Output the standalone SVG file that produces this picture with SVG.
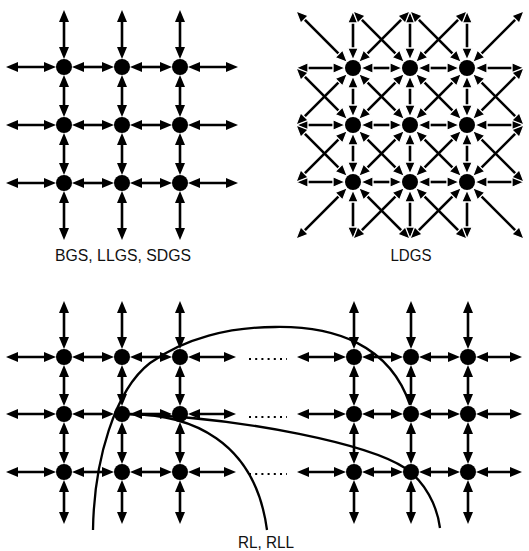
<svg xmlns="http://www.w3.org/2000/svg" width="529" height="551" viewBox="0 0 529 551">
<style>
.ln{stroke:#000;stroke-width:2.6;fill:none;marker-start:url(#a);marker-end:url(#a)}
.ld{stroke:#000;stroke-width:2.6;fill:none;marker-start:url(#b);marker-end:url(#b)}
.cv{stroke:#000;stroke-width:2.3;fill:none}
.dt{stroke:#000;stroke-width:2;stroke-dasharray:2 4.2;fill:none}
.nd{fill:#000}
.lb{font-family:"Liberation Sans",Arial,sans-serif;font-size:16px;fill:#111;text-anchor:middle}
</style>
<defs>
<marker id="a" markerUnits="userSpaceOnUse" markerWidth="14" markerHeight="12" viewBox="0 0 14 12" refX="7" refY="6" orient="auto-start-reverse" overflow="visible"><path d="M1,1 L13,6 L1,11 z" fill="#000"/></marker>
<marker id="b" markerUnits="userSpaceOnUse" markerWidth="15" markerHeight="13" viewBox="0 0 15 13" refX="7.5" refY="6.5" orient="auto-start-reverse" overflow="visible"><path d="M1.5,1.2 L13.5,6.5 L1.5,11.8 z" fill="#000" stroke="#fff" stroke-width="1.3" stroke-linejoin="miter"/></marker>
</defs>
<rect width="529" height="551" fill="#fff"/>
<g id="connectors">
<g id="bgs-links">
<line class="ln" x1="12" y1="67" x2="50" y2="67"/><line class="ln" x1="78" y1="67" x2="108" y2="67"/><line class="ln" x1="136" y1="67" x2="166" y2="67"/><line class="ln" x1="194" y1="67" x2="232" y2="67"/>
<line class="ln" x1="12" y1="125" x2="50" y2="125"/><line class="ln" x1="78" y1="125" x2="108" y2="125"/><line class="ln" x1="136" y1="125" x2="166" y2="125"/><line class="ln" x1="194" y1="125" x2="232" y2="125"/>
<line class="ln" x1="12" y1="183" x2="50" y2="183"/><line class="ln" x1="78" y1="183" x2="108" y2="183"/><line class="ln" x1="136" y1="183" x2="166" y2="183"/><line class="ln" x1="194" y1="183" x2="232" y2="183"/>
<line class="ln" x1="64" y1="16" x2="64" y2="53"/><line class="ln" x1="64" y1="81" x2="64" y2="111"/><line class="ln" x1="64" y1="139" x2="64" y2="169"/><line class="ln" x1="64" y1="197" x2="64" y2="234"/>
<line class="ln" x1="122" y1="16" x2="122" y2="53"/><line class="ln" x1="122" y1="81" x2="122" y2="111"/><line class="ln" x1="122" y1="139" x2="122" y2="169"/><line class="ln" x1="122" y1="197" x2="122" y2="234"/>
<line class="ln" x1="180" y1="16" x2="180" y2="53"/><line class="ln" x1="180" y1="81" x2="180" y2="111"/><line class="ln" x1="180" y1="139" x2="180" y2="169"/><line class="ln" x1="180" y1="197" x2="180" y2="234"/>
</g>
<g id="ldgs-links">
<line class="ld" x1="302" y1="68" x2="339" y2="68"/><line class="ld" x1="367" y1="68" x2="396" y2="68"/><line class="ld" x1="424" y1="68" x2="453" y2="68"/><line class="ld" x1="481" y1="68" x2="518" y2="68"/>
<line class="ld" x1="302" y1="125" x2="339" y2="125"/><line class="ld" x1="367" y1="125" x2="396" y2="125"/><line class="ld" x1="424" y1="125" x2="453" y2="125"/><line class="ld" x1="481" y1="125" x2="518" y2="125"/>
<line class="ld" x1="302" y1="182" x2="339" y2="182"/><line class="ld" x1="367" y1="182" x2="396" y2="182"/><line class="ld" x1="424" y1="182" x2="453" y2="182"/><line class="ld" x1="481" y1="182" x2="518" y2="182"/>
<line class="ld" x1="353" y1="17" x2="353" y2="54"/><line class="ld" x1="353" y1="82" x2="353" y2="111"/><line class="ld" x1="353" y1="139" x2="353" y2="168"/><line class="ld" x1="353" y1="196" x2="353" y2="233"/>
<line class="ld" x1="410" y1="17" x2="410" y2="54"/><line class="ld" x1="410" y1="82" x2="410" y2="111"/><line class="ld" x1="410" y1="139" x2="410" y2="168"/><line class="ld" x1="410" y1="196" x2="410" y2="233"/>
<line class="ld" x1="467" y1="17" x2="467" y2="54"/><line class="ld" x1="467" y1="82" x2="467" y2="111"/><line class="ld" x1="467" y1="139" x2="467" y2="168"/><line class="ld" x1="467" y1="196" x2="467" y2="233"/>
<line class="ld" x1="300.2" y1="15.2" x2="343.1" y2="58.1"/>
<line class="ld" x1="357.2" y1="15.2" x2="400.1" y2="58.1"/>
<line class="ld" x1="414.2" y1="15.2" x2="457.1" y2="58.1"/>
<line class="ld" x1="300.2" y1="72.2" x2="343.1" y2="115.1"/>
<line class="ld" x1="362.9" y1="77.9" x2="400.1" y2="115.1"/>
<line class="ld" x1="419.9" y1="77.9" x2="457.1" y2="115.1"/>
<line class="ld" x1="476.9" y1="77.9" x2="519.8" y2="120.8"/>
<line class="ld" x1="300.2" y1="129.2" x2="343.1" y2="172.1"/>
<line class="ld" x1="362.9" y1="134.9" x2="400.1" y2="172.1"/>
<line class="ld" x1="419.9" y1="134.9" x2="457.1" y2="172.1"/>
<line class="ld" x1="476.9" y1="134.9" x2="519.8" y2="177.8"/>
<line class="ld" x1="362.9" y1="191.9" x2="405.8" y2="234.8"/>
<line class="ld" x1="419.9" y1="191.9" x2="462.8" y2="234.8"/>
<line class="ld" x1="476.9" y1="191.9" x2="519.8" y2="234.8"/>
<line class="ld" x1="300.2" y1="120.8" x2="343.1" y2="77.9"/>
<line class="ld" x1="300.2" y1="177.8" x2="343.1" y2="134.9"/>
<line class="ld" x1="300.2" y1="234.8" x2="343.1" y2="191.9"/>
<line class="ld" x1="362.9" y1="58.1" x2="405.8" y2="15.2"/>
<line class="ld" x1="362.9" y1="115.1" x2="400.1" y2="77.9"/>
<line class="ld" x1="362.9" y1="172.1" x2="400.1" y2="134.9"/>
<line class="ld" x1="357.2" y1="234.8" x2="400.1" y2="191.9"/>
<line class="ld" x1="419.9" y1="58.1" x2="462.8" y2="15.2"/>
<line class="ld" x1="419.9" y1="115.1" x2="457.1" y2="77.9"/>
<line class="ld" x1="419.9" y1="172.1" x2="457.1" y2="134.9"/>
<line class="ld" x1="414.2" y1="234.8" x2="457.1" y2="191.9"/>
<line class="ld" x1="476.9" y1="58.1" x2="519.8" y2="15.2"/>
<line class="ld" x1="476.9" y1="115.1" x2="519.8" y2="72.2"/>
<line class="ld" x1="476.9" y1="172.1" x2="519.8" y2="129.2"/>
</g>
<g id="rl-left-links">
<line class="ln" x1="12" y1="357" x2="50" y2="357"/><line class="ln" x1="78" y1="357" x2="108" y2="357"/><line class="ln" x1="136" y1="357" x2="166" y2="357"/><line class="ln" x1="194" y1="357" x2="230" y2="357"/>
<line class="ln" x1="12" y1="414" x2="50" y2="414"/><line class="ln" x1="78" y1="414" x2="108" y2="414"/><line class="ln" x1="136" y1="414" x2="166" y2="414"/><line class="ln" x1="194" y1="414" x2="230" y2="414"/>
<line class="ln" x1="12" y1="472" x2="50" y2="472"/><line class="ln" x1="78" y1="472" x2="108" y2="472"/><line class="ln" x1="136" y1="472" x2="166" y2="472"/><line class="ln" x1="194" y1="472" x2="230" y2="472"/>
<line class="ln" x1="64" y1="307" x2="64" y2="343"/><line class="ln" x1="64" y1="371" x2="64" y2="400"/><line class="ln" x1="64" y1="428" x2="64" y2="458"/><line class="ln" x1="64" y1="486" x2="64" y2="518"/>
<line class="ln" x1="122" y1="307" x2="122" y2="343"/><line class="ln" x1="122" y1="371" x2="122" y2="400"/><line class="ln" x1="122" y1="428" x2="122" y2="458"/><line class="ln" x1="122" y1="486" x2="122" y2="518"/>
<line class="ln" x1="180" y1="307" x2="180" y2="343"/><line class="ln" x1="180" y1="371" x2="180" y2="400"/><line class="ln" x1="180" y1="428" x2="180" y2="458"/><line class="ln" x1="180" y1="486" x2="180" y2="518"/>
</g>
<g id="rl-right-links">
<line class="ln" x1="303" y1="357" x2="340" y2="357"/><line class="ln" x1="368" y1="357" x2="397" y2="357"/><line class="ln" x1="425" y1="357" x2="454" y2="357"/><line class="ln" x1="482" y1="357" x2="516" y2="357"/>
<line class="ln" x1="303" y1="414" x2="340" y2="414"/><line class="ln" x1="368" y1="414" x2="397" y2="414"/><line class="ln" x1="425" y1="414" x2="454" y2="414"/><line class="ln" x1="482" y1="414" x2="516" y2="414"/>
<line class="ln" x1="303" y1="472" x2="340" y2="472"/><line class="ln" x1="368" y1="472" x2="397" y2="472"/><line class="ln" x1="425" y1="472" x2="454" y2="472"/><line class="ln" x1="482" y1="472" x2="516" y2="472"/>
<line class="ln" x1="354" y1="307" x2="354" y2="343"/><line class="ln" x1="354" y1="371" x2="354" y2="400"/><line class="ln" x1="354" y1="428" x2="354" y2="458"/><line class="ln" x1="354" y1="486" x2="354" y2="518"/>
<line class="ln" x1="411" y1="307" x2="411" y2="343"/><line class="ln" x1="411" y1="371" x2="411" y2="400"/><line class="ln" x1="411" y1="428" x2="411" y2="458"/><line class="ln" x1="411" y1="486" x2="411" y2="518"/>
<line class="ln" x1="468" y1="307" x2="468" y2="343"/><line class="ln" x1="468" y1="371" x2="468" y2="400"/><line class="ln" x1="468" y1="428" x2="468" y2="458"/><line class="ln" x1="468" y1="486" x2="468" y2="518"/>
</g>
<g id="ellipsis">
<line class="dt" x1="249" y1="359" x2="287" y2="359"/>
<line class="dt" x1="249" y1="417" x2="287" y2="417"/>
<line class="dt" x1="249" y1="474" x2="287" y2="474"/>
</g>
<g id="random-links">
<path class="cv" d="M93,530 C94,460 115,390 150,363 C185,338 230,327 275,327 C335,326 390,345 410,405"/>
<path class="cv" d="M128,414 C190,414 255,440 267,530"/>
<path class="cv" d="M128,414 C250,418 370,445 405,468 C425,482 437,505 440,528"/>
</g>
</g>
<g id="nodes-bgs">
<g id="n-bgs-1"><circle class="nd" cx="64" cy="67" r="8"/></g>
<g id="n-bgs-2"><circle class="nd" cx="122" cy="67" r="8"/></g>
<g id="n-bgs-3"><circle class="nd" cx="180" cy="67" r="8"/></g>
<g id="n-bgs-4"><circle class="nd" cx="64" cy="125" r="8"/></g>
<g id="n-bgs-5"><circle class="nd" cx="122" cy="125" r="8"/></g>
<g id="n-bgs-6"><circle class="nd" cx="180" cy="125" r="8"/></g>
<g id="n-bgs-7"><circle class="nd" cx="64" cy="183" r="8"/></g>
<g id="n-bgs-8"><circle class="nd" cx="122" cy="183" r="8"/></g>
<g id="n-bgs-9"><circle class="nd" cx="180" cy="183" r="8"/></g>
</g>
<g id="nodes-ldgs">
<g id="n-ldgs-1"><circle class="nd" cx="353" cy="68" r="8"/></g>
<g id="n-ldgs-2"><circle class="nd" cx="410" cy="68" r="8"/></g>
<g id="n-ldgs-3"><circle class="nd" cx="467" cy="68" r="8"/></g>
<g id="n-ldgs-4"><circle class="nd" cx="353" cy="125" r="8"/></g>
<g id="n-ldgs-5"><circle class="nd" cx="410" cy="125" r="8"/></g>
<g id="n-ldgs-6"><circle class="nd" cx="467" cy="125" r="8"/></g>
<g id="n-ldgs-7"><circle class="nd" cx="353" cy="182" r="8"/></g>
<g id="n-ldgs-8"><circle class="nd" cx="410" cy="182" r="8"/></g>
<g id="n-ldgs-9"><circle class="nd" cx="467" cy="182" r="8"/></g>
</g>
<g id="nodes-rl-left">
<g id="n-rl-1"><circle class="nd" cx="64" cy="357" r="8"/></g>
<g id="n-rl-2"><circle class="nd" cx="122" cy="357" r="8"/></g>
<g id="n-rl-3"><circle class="nd" cx="180" cy="357" r="8"/></g>
<g id="n-rl-4"><circle class="nd" cx="64" cy="414" r="8"/></g>
<g id="n-rl-5"><circle class="nd" cx="122" cy="414" r="8"/></g>
<g id="n-rl-6"><circle class="nd" cx="180" cy="414" r="8"/></g>
<g id="n-rl-7"><circle class="nd" cx="64" cy="472" r="8"/></g>
<g id="n-rl-8"><circle class="nd" cx="122" cy="472" r="8"/></g>
<g id="n-rl-9"><circle class="nd" cx="180" cy="472" r="8"/></g>
</g>
<g id="nodes-rl-right">
<g id="n-rr-1"><circle class="nd" cx="354" cy="357" r="8"/></g>
<g id="n-rr-2"><circle class="nd" cx="411" cy="357" r="8"/></g>
<g id="n-rr-3"><circle class="nd" cx="468" cy="357" r="8"/></g>
<g id="n-rr-4"><circle class="nd" cx="354" cy="414" r="8"/></g>
<g id="n-rr-5"><circle class="nd" cx="411" cy="414" r="8"/></g>
<g id="n-rr-6"><circle class="nd" cx="468" cy="414" r="8"/></g>
<g id="n-rr-7"><circle class="nd" cx="354" cy="472" r="8"/></g>
<g id="n-rr-8"><circle class="nd" cx="411" cy="472" r="8"/></g>
<g id="n-rr-9"><circle class="nd" cx="468" cy="472" r="8"/></g>
</g>
<g id="labels">
<text class="lb" x="123" y="261" textLength="136" lengthAdjust="spacingAndGlyphs">BGS, LLGS, SDGS</text>
<text class="lb" x="411" y="261" textLength="41" lengthAdjust="spacingAndGlyphs">LDGS</text>
<text class="lb" x="266" y="548" textLength="56" lengthAdjust="spacingAndGlyphs">RL, RLL</text>
</g>
</svg>
